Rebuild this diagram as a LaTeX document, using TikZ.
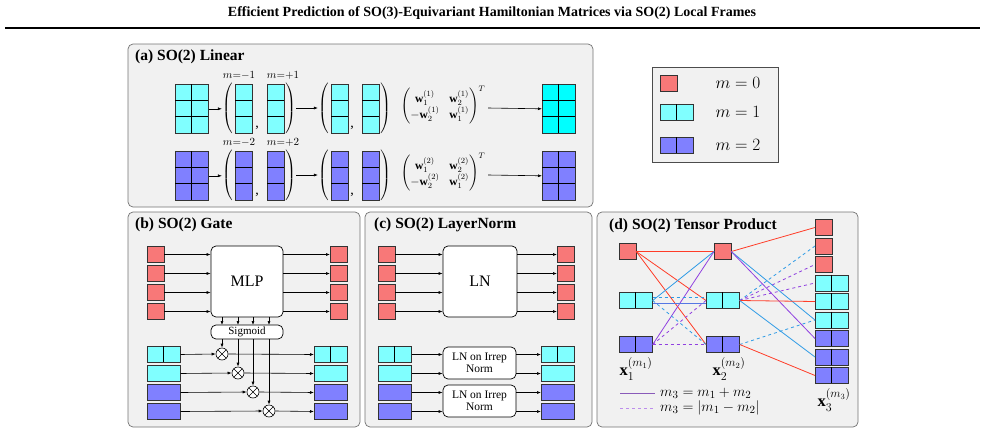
\documentclass[tikz,border=0pt]{standalone}
\usepackage{amsmath}
\usepackage{fontspec}
\setmainfont{Liberation Serif}
\usetikzlibrary{calc,arrows.meta}
\definecolor{cr}{HTML}{F87878}
\definecolor{cc}{HTML}{80FFFF}
\definecolor{cb}{HTML}{00FFFF}
\definecolor{cv}{HTML}{8080FF}
\definecolor{pan}{HTML}{F1F1F1}
\definecolor{lr}{HTML}{FF3C28}
\definecolor{lb}{HTML}{2E9BE6}
\definecolor{lp}{HTML}{9040E0}
\newcommand\mygrid[6]{%
 \node[gb, fill=#6, minimum width={#4*16.5pt}, minimum height={#5*16.3pt}] (#1) at (#2,#3) {};
 \foreach \i in {1,...,#4}{\ifnum\i<#4 \draw[line width=0.7pt] ($(#1.north west)+(\i*16.5,0)$) -- ++(0,#5*16.3);\fi}
 \foreach \j in {1,...,#5}{\ifnum\j<#5 \draw[line width=0.7pt] ($(#1.north west)+(0,\j*16.3)$) -- ++(#4*16.5,0);\fi}}
\tikzset{
 gb/.style={draw=black!80, line width=0.7pt, inner sep=0, anchor=north west},
 panel/.style={draw=black!55, fill=pan, rounded corners=5pt, line width=0.7pt},
 ptitle/.style={anchor=west, font=\bfseries\fontsize{15.5}{18}\selectfont, inner sep=0},
 arr/.style={-{Latex[length=4pt,width=3pt]}, line width=0.6pt},
 rbox/.style={draw=black, fill=white, rounded corners=5pt, line width=0.7pt},
 par/.style={inner sep=0, font=\fontsize{12}{14}\selectfont},
 lab/.style={inner sep=0, font=\fontsize{11}{13}\selectfont},
 big/.style={inner sep=0, font=\fontsize{16.5}{19}\selectfont},
 otim/.style={circle, draw=black, fill=white, minimum size=12pt, inner sep=0, line width=0.6pt,
   path picture={\draw[line width=0.6pt] (path picture bounding box.north west)--(path picture bounding box.south east) (path picture bounding box.north east)--(path picture bounding box.south west);}},
}
\begin{document}
\begin{tikzpicture}[x=1pt,y=-1pt]
\useasboundingbox (0,0) rectangle (985,442);
\node[font=\bfseries\fontsize{14}{17}\selectfont] (title) at (492,13) {Efficient Prediction of SO(3)-Equivariant Hamiltonian Matrices via SO(2) Local Frames};
\draw[line width=1.6pt] (5,28) -- (980,28);

% panels
\draw[panel] (128,44) rectangle (593,207);
\draw[panel] (128,212) rectangle (360,427);
\draw[panel] (365,212) rectangle (592,427);
\draw[panel] (597,212) rectangle (858,427);
\draw[draw=black!70, fill=pan, line width=0.7pt] (652,67) rectangle (778,162);
\node[ptitle] (ta) at (135,57) {(a) SO(2) Linear};
\node[ptitle] (tb) at (135,225) {(b) SO(2) Gate};
\node[ptitle] (tc) at (374,225) {(c) SO(2) LayerNorm};
\node[ptitle] (td) at (609,226) {(d) SO(2) Tensor Product};

% legend
\mygrid{lg0}{660}{75}{1}{1}{cr}
\mygrid{lg1}{660}{104}{2}{1}{cc}
\mygrid{lg2}{660}{137}{2}{1}{cv}
\node[big] (l0) at (738,83) {$m=0$};
\node[big] (l1) at (738,112) {$m=1$};
\node[big] (l2) at (738,145) {$m=2$};

% (a)
\foreach \r/\y/\c/\cc/\k in {1/84/cc/cb/1,2/151/cv/cv/2}{
 \mygrid{ain\r}{175}{\y}{2}{3}{\c}
 \mygrid{ac\r a}{235}{\y}{1}{3}{\c}
 \mygrid{ac\r b}{267}{\y}{1}{3}{\c}
 \mygrid{ac\r c}{331}{\y}{1}{3}{\c}
 \mygrid{ac\r d}{362}{\y}{1}{3}{\c}
 \mygrid{aout\r}{542}{\y}{2}{3}{\cc}
 \node[par] (po\r) at (228,\y+24) {$\left(\vrule height 21pt depth 21pt width 0pt\right.$};
 \node[par] (pc\r) at (290,\y+24) {$\left.\vrule height 21pt depth 21pt width 0pt\right)$};
 \node[par] (qo\r) at (324,\y+24) {$\left(\vrule height 21pt depth 21pt width 0pt\right.$};
 \node[par] (qc\r) at (385,\y+24) {$\left.\vrule height 21pt depth 21pt width 0pt\right)$};
 \node[inner sep=0, font=\fontsize{14}{16}\selectfont] (cm\r) at (257,\y+44) {,};
 \node[inner sep=0, font=\fontsize{14}{16}\selectfont] (cn\r) at (352,\y+44) {,};
 \node[inner sep=0, font=\fontsize{11.5}{13}\selectfont] (mat\r) at (443,\y+21) {$\begin{pmatrix}\mathbf{w}_1^{(\k)} & \mathbf{w}_2^{(\k)}\\ -\mathbf{w}_2^{(\k)} & \mathbf{w}_1^{(\k)}\end{pmatrix}^{T}$};
 \node[lab] (ml\r) at (239,\y-9) {$m{=}{-\k}$};
 \node[lab] (mr\r) at (283,\y-9) {$m{=}{+\k}$};
 \draw[arr] (ain\r.east) -- (ain\r.east -| po\r.west);
 \draw[arr] (pc\r.east) -- (qo\r.west);
 \draw[arr] (488,\y+24) -- (aout\r.west);
}

% (b)
\foreach \i/\y in {1/246,2/265,3/284,4/303}{
 \mygrid{brin\i}{147}{\y}{1}{1}{cr}
 \mygrid{brout\i}{330}{\y}{1}{1}{cr}
 \mygrid{crin\i}{378}{\y}{1}{1}{cr}
 \mygrid{crout\i}{557}{\y}{1}{1}{cr}
}
\node[rbox, minimum width=72pt, minimum height=71pt, font=\fontsize{16}{19}\selectfont] (mlp) at (247,281.5) {MLP};
\node[rbox, minimum width=72pt, minimum height=14pt, inner sep=0, font=\fontsize{11}{12}\selectfont] (sig) at (247,332) {Sigmoid};
\foreach \i in {1,...,4}{
 \draw[arr] (brin\i.east) -- (brin\i.east -| mlp.west);
 \draw[arr] (brout\i.west -| mlp.east) -- (brout\i.west);
}
\foreach \i/\y/\c/\x in {1/346/cc/222,2/365/cc/238,3/384/cv/253,4/403/cv/269}{
 \mygrid{bin\i}{147}{\y}{2}{1}{\c}
 \mygrid{bout\i}{314}{\y}{2}{1}{\c}
 \node[otim] (ot\i) at (\x,\y+8) {};
 \draw[arr] (bin\i.east) -- (ot\i.west);
 \draw[arr] (ot\i.east) -- (bout\i.west);
 \draw[arr] (\x,317) -- (\x,325);
 \draw[arr] (\x,339) -- (ot\i.north);
}

% (c)
\node[rbox, minimum width=74pt, minimum height=71pt, font=\fontsize{16}{19}\selectfont] (ln) at (480,281.5) {LN};
\foreach \i in {1,...,4}{
 \draw[arr] (crin\i.east) -- (crin\i.east -| ln.west);
 \draw[arr] (crout\i.west -| ln.east) -- (crout\i.west);
}
\node[rbox, minimum width=73pt, minimum height=32pt, align=center, inner sep=0, font=\fontsize{11.5}{12.5}\selectfont] (lni1) at (479.5,363) {LN on Irrep\\Norm};
\node[rbox, minimum width=73pt, minimum height=32pt, align=center, inner sep=0, font=\fontsize{11.5}{12.5}\selectfont] (lni2) at (479.5,401) {LN on Irrep\\Norm};
\foreach \i/\y/\c/\b in {1/346/cc/lni1,2/365/cc/lni1,3/384/cv/lni2,4/403/cv/lni2}{
 \mygrid{cin\i}{378}{\y}{2}{1}{\c}
 \mygrid{cout\i}{541}{\y}{2}{1}{\c}
 \draw[arr] (cin\i.east) -- (cin\i.east -| \b.west);
 \draw[arr] (cout\i.west -| \b.east) -- (cout\i.west);
}

% (d)
\mygrid{a0}{619}{243}{1}{1}{cr}
\mygrid{a1}{619}{292}{2}{1}{cc}
\mygrid{a2}{619}{336}{2}{1}{cv}
\mygrid{b0}{714}{243}{1}{1}{cr}
\mygrid{b1}{706}{292}{2}{1}{cc}
\mygrid{b2}{706}{336}{2}{1}{cv}
\mygrid{r1}{815}{219}{1}{1}{cr}
\mygrid{r2}{815}{237.5}{1}{1}{cr}
\mygrid{r3}{815}{256}{1}{1}{cr}
\mygrid{c1}{815}{274.5}{2}{1}{cc}
\mygrid{c2}{815}{293}{2}{1}{cc}
\mygrid{c3}{815}{311.5}{2}{1}{cc}
\mygrid{v1}{815}{330}{2}{1}{cv}
\mygrid{v2}{815}{348.5}{2}{1}{cv}
\mygrid{v3}{815}{367}{2}{1}{cv}
\begin{scope}[line width=0.8pt]
\draw[lr] (a0.east) -- (b0.west);
\draw[lr] (a0.east) -- (b1.west);
\draw[lr] (a0.east) -- (b2.west);
\draw[lb] (a1.east) -- (b0.west);
\draw[lp] (a2.east) -- (b0.west);
\draw[lb, dashed] ($(a1.east)+(0,-3)$) -- ($(b1.west)+(0,-3)$);
\draw[lb!60!lp] ($(a1.east)+(0,3)$) -- ($(b1.west)+(0,3)$);
\draw[lb, dashed] (a1.east) -- (b2.west);
\draw[lp, dashed] (a2.east) -- (b1.west);
\draw[lp, dashed] (a2.east) -- (b2.west);
\draw[lr] (b0.east) -- (r1.west);
\draw[lb] (b0.east) -- (c3.west);
\draw[lp] (b0.east) -- (v1.west);
\draw[lb, dashed] (b1.east) -- (r2.west);
\draw[lp, dashed] (b1.east) -- (r3.west);
\draw[lp, dashed] (b1.east) -- (c1.west);
\draw[lr] (b1.east) -- (c2.west);
\draw[lb] (b1.east) -- (v2.west);
\draw[lb, dashed] (b2.east) -- (c3.west);
\draw[lr] (b2.east) -- (v3.west);
\end{scope}
\node[big] (x1) at (636,369) {$\mathbf{x}_1^{(m_1)}$};
\node[big] (x2) at (729,369) {$\mathbf{x}_2^{(m_2)}$};
\node[big] (x3) at (834,400) {$\mathbf{x}_3^{(m_3)}$};
\coordinate (g1a) at (620,393); \coordinate (g1b) at (655,393);
\coordinate (g2a) at (620,408); \coordinate (g2b) at (655,408);
\draw[lp!60!gray, line width=0.9pt] (g1a) -- (g1b);
\draw[lp!60, dashed, line width=0.9pt] (g2a) -- (g2b);
\node[anchor=west, inner sep=0, font=\fontsize{15}{17}\selectfont] (e1) at (660,393) {$m_3 = m_1 + m_2$};
\node[anchor=west, inner sep=0, font=\fontsize{15}{17}\selectfont] (e2) at (660,408) {$m_3 = |m_1 - m_2|$};
\end{tikzpicture}
\end{document}
